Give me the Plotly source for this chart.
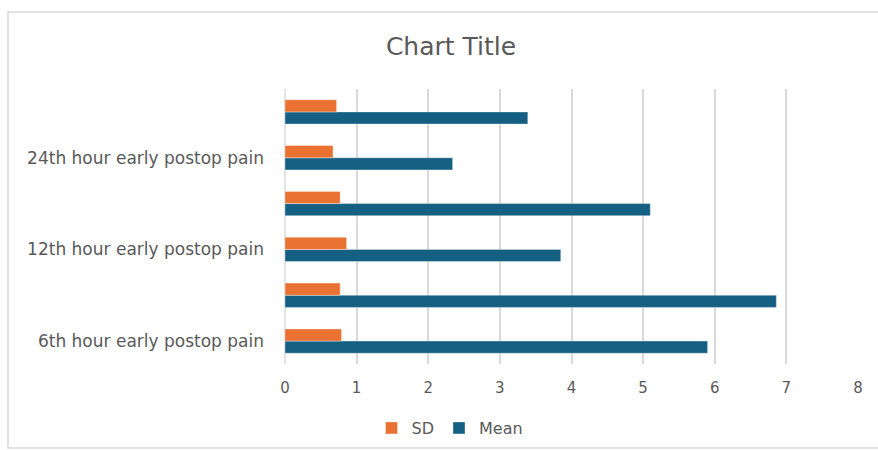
import plotly.graph_objects as go

categories = [
    "6th hour early postop pain",
    "6th hour late postop pain",
    "12th hour early postop pain",
    "12th hour late postop pain",
    "24th hour early postop pain",
    "24th hour late postop pain",
]
tick_labels = [
    "6th hour early postop pain",
    "",
    "12th hour early postop pain",
    "",
    "24th hour early postop pain",
    "",
]
mean_values = [5.90, 6.86, 3.85, 5.10, 2.34, 3.39]
sd_values = [0.79, 0.77, 0.86, 0.77, 0.67, 0.72]

grey = "#595959"
font_family = "DejaVu Sans, sans-serif"

fig = go.Figure()
fig.add_trace(go.Bar(
    y=categories, x=mean_values, name="Mean", orientation="h",
    marker=dict(color="#156082", line=dict(color="rgba(255,255,255,0.6)", width=0.6)),
))
fig.add_trace(go.Bar(
    y=categories, x=sd_values, name="SD", orientation="h",
    marker=dict(color="#E97132", line=dict(color="rgba(255,255,255,0.6)", width=0.6)),
))

W, H = 878, 450
ml, mr, mt, mb = 285, 20, 89, 86
pw = W - ml - mr
ph = H - mt - mb

def px_x(x):
    return (x - ml) / pw

def px_y(y):
    return (H - mb - y) / ph

fig.update_layout(
    width=W, height=H,
    margin=dict(l=ml, r=mr, t=mt, b=mb, autoexpand=False),
    paper_bgcolor="white", plot_bgcolor="white",
    barmode="group", bargap=0.47, bargroupgap=0,
    font=dict(family=font_family, color=grey),
    title=dict(text="Chart Title", x=px_x(451), xref="paper", xanchor="center",
               y=1 - 46 / H, yanchor="middle",
               font=dict(size=25, color=grey, family=font_family)),
    showlegend=True,
    legend=dict(orientation="h", x=px_x(450), xanchor="center", y=px_y(428), yanchor="middle",
                traceorder="reversed", font=dict(size=16, color=grey),
                itemwidth=30),
    xaxis=dict(range=[0, 8], dtick=1, tick0=0, showgrid=True, gridcolor="#d9d9d9", gridwidth=1.5,
               zeroline=False, showline=False, tickfont=dict(size=15, color=grey),
               ticklabelstandoff=13, fixedrange=True, automargin=False),
    yaxis=dict(categoryorder="array", categoryarray=categories,
               tickvals=categories, ticktext=tick_labels,
               showgrid=False, zeroline=False, showline=False, automargin=False,
               tickfont=dict(size=17, color=grey), ticklabelstandoff=20),
    shapes=[
        dict(type="line", xref="paper", yref="paper", x0=0, x1=0, y0=0, y1=1,
             line=dict(color="#d9d9d9", width=1.5), layer="below"),
        dict(type="rect", xref="paper", yref="paper",
             x0=px_x(8), x1=px_x(884), y0=px_y(448), y1=px_y(12),
             line=dict(color="#d9d9d9", width=1.5), fillcolor="rgba(0,0,0,0)"),
    ],
)

fig.write_html("out.html")
